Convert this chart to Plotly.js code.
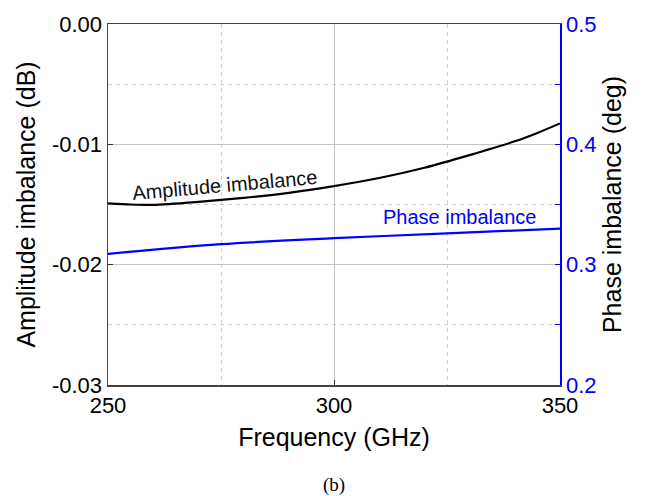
<!DOCTYPE html>
<html>
<head>
<meta charset="utf-8">
<script src="https://cdn.plot.ly/plotly-3.0.1.min.js"></script>
<style>html,body{margin:0;padding:0;background:#fff;}#chart{width:645px;height:496px;}</style>
</head>
<body>
<div id="chart"></div>
<script>
// Data
const freqAmp = [250, 255, 260, 270, 280, 290, 300, 310, 320, 330, 340, 345, 350];
const ampImbalance = [-0.0149, -0.0150, -0.01503, -0.01478, -0.01445, -0.01403, -0.01347, -0.01280, -0.01195, -0.01090, -0.00975, -0.00905, -0.00826];
const freqPhase = [250, 275, 300, 325, 350];
const phaseImbalance = [0.309, 0.317, 0.322, 0.326, 0.330];
const xTicks = [250, 300, 350];
const yLeftTicks = [0, -0.01, -0.02, -0.03];
const yLeftTickText = ['0.00', '-0.01', '-0.02', '-0.03'];
const yRightTicks = [0.2, 0.3, 0.4, 0.5];

const font = 'Arial, "Liberation Sans", sans-serif';

const traces = [
  {x: freqAmp, y: ampImbalance, type: 'scatter', mode: 'lines',
   line: {color: '#000000', width: 2.2, shape: 'spline', smoothing: 0.8}, yaxis: 'y', showlegend: false},
  {x: freqPhase, y: phaseImbalance, type: 'scatter', mode: 'lines',
   line: {color: '#0000ff', width: 2.2, shape: 'spline'}, yaxis: 'y2', showlegend: false}
];

const layout = {
  width: 645, height: 496,
  margin: {l: 108, r: 85, t: 24, b: 111},
  paper_bgcolor: '#ffffff', plot_bgcolor: '#ffffff',
  font: {family: font, color: '#000'},
  showlegend: false,
  xaxis: {
    range: [250, 350], tickvals: xTicks, ticktext: xTicks.map(String),
    ticks: 'inside', ticklen: 5, tickcolor: '#333',
    showline: true, linecolor: '#444', linewidth: 1.5, mirror: true,
    showgrid: true, gridcolor: '#c4c4c4', gridwidth: 1,
    minor: {dtick: 25, tick0: 250, showgrid: true, gridcolor: '#cfcfcf', griddash: '4px,4px', gridwidth: 1},
    tickfont: {size: 22, family: font, color: '#000'},
    title: {text: 'Frequency (GHz)', font: {size: 25, family: font, color: '#000'}, standoff: 11},
    zeroline: false, fixedrange: true
  },
  yaxis: {
    range: [-0.03, 0], tickvals: yLeftTicks, ticktext: yLeftTickText,
    ticks: 'inside', ticklen: 5, tickcolor: '#333',
    showline: true, linecolor: '#444', linewidth: 1.5,
    showgrid: true, gridcolor: '#c4c4c4', gridwidth: 1,
    minor: {dtick: 0.005, tick0: 0, showgrid: true, gridcolor: '#cfcfcf', griddash: '4px,4px', gridwidth: 1},
    tickfont: {size: 22, family: font, color: '#000'},
    title: {text: 'Amplitude imbalance (dB)', font: {size: 25, family: font, color: '#000'}, standoff: 9},
    zeroline: false, fixedrange: true
  },
  yaxis2: {
    overlaying: 'y', side: 'right', range: [0.2, 0.5], tickvals: yRightTicks,
    ticktext: yRightTicks.map(v => v.toFixed(1)),
    ticks: 'inside', ticklen: 5, tickcolor: '#0000ff',
    minor: {dtick: 0.05, ticks: 'inside', ticklen: 5, tickcolor: '#0000ff', showgrid: false},
    showline: true, linecolor: '#0000ff', linewidth: 1.5,
    showgrid: false, zeroline: false,
    tickfont: {size: 22, family: font, color: '#0000ff'},
    title: {text: 'Phase imbalance (deg)', font: {size: 25, family: font, color: '#000'}, standoff: 8},
    fixedrange: true
  },
  annotations: [
    {x: 275.9, y: -0.01338, xref: 'x', yref: 'y', text: 'Amplitude imbalance', showarrow: false,
     textangle: -5, font: {size: 20, family: font, color: '#111'}},
    {x: 327.7, y: 0.3396, xref: 'x', yref: 'y2', text: 'Phase imbalance', showarrow: false,
     textangle: 0, font: {size: 20, family: font, color: '#0000ff'}},
    {x: 0.5, y: -0.277, xref: 'paper', yref: 'paper', yanchor: 'middle', xanchor: 'center',
     text: '(b)', showarrow: false,
     font: {size: 19, family: '"Liberation Serif", "Times New Roman", serif', color: '#000'}}
  ]
};

Plotly.newPlot('chart', traces, layout, {displayModeBar: false, staticPlot: true});
</script>
</body>
</html>
